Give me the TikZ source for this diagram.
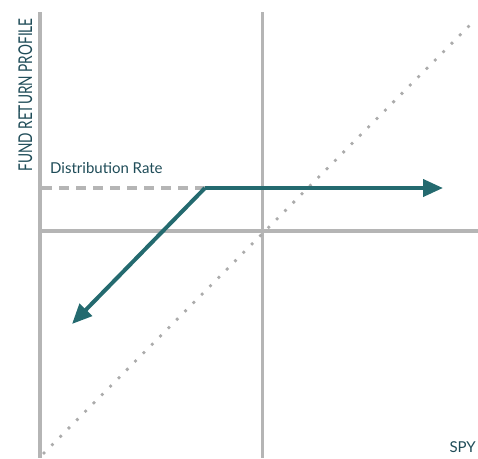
\documentclass[tikz,border=0pt]{standalone}
\usepackage{fontspec}
\setmainfont{Lato}
\usetikzlibrary{arrows.meta}
\definecolor{axisgray}{HTML}{B5B5B5}
\definecolor{dotgray}{HTML}{ABABAB}
\definecolor{teal}{HTML}{246A6F}
\definecolor{labeltxt}{HTML}{1F4C58}
\tikzset{
  axis/.style={draw=axisgray, line width=3.2pt},
  dashline/.style={draw=axisgray, line width=3.2pt, dash pattern=on 10pt off 7pt},
  dotline/.style={draw=dotgray, line width=3.8pt, line cap=round, dash pattern=on 0pt off 11.8pt},
  payoff/.style={draw=teal, line width=4pt, -{Triangle[length=20pt,width=17pt]}},
  lbl/.style={text=labeltxt, inner sep=0pt, font=\fontsize{15}{15}\selectfont},
}
\begin{document}
\begin{tikzpicture}[x=1pt,y=-1pt]
\useasboundingbox (0,0) rectangle (478,458);
% axes
\coordinate (ltop) at (40,12);
\coordinate (lbot) at (40,458);
\coordinate (mtop) at (262.5,12);
\coordinate (mbot) at (262.5,458);
\coordinate (hleft) at (40,231);
\coordinate (hright) at (478,231);
\draw[axis] (ltop) -- (lbot);
\draw[axis] (mtop) -- (mbot);
\draw[axis] (hleft) -- (hright);
% dotted diagonal
\coordinate (dstart) at (44,453);
\coordinate (dend) at (476,19);
\draw[dotline] (dstart) -- (dend);
% dashed distribution level
\coordinate (dashl) at (42,188);
\coordinate (kink) at (205,188);
\draw[dashline] (dashl) -- (kink);
% payoff
\coordinate (rtip) at (443,188);
\coordinate (ltip) at (72,324);
\draw[payoff] (kink) -- (rtip);
\draw[payoff] (kink) -- (ltip);
% labels
\node[lbl, anchor=base west] (dist) at (50,173) {Distribution Rate};
\node[lbl, anchor=base east] (spy) at (476,452) {SPY};
\node[lbl, rotate=90, anchor=base] (fund) at (32,95) {\scalebox{0.72}[1]{\fontsize{19}{19}\selectfont FUND RETURN PROFILE}};
\end{tikzpicture}
\end{document}
